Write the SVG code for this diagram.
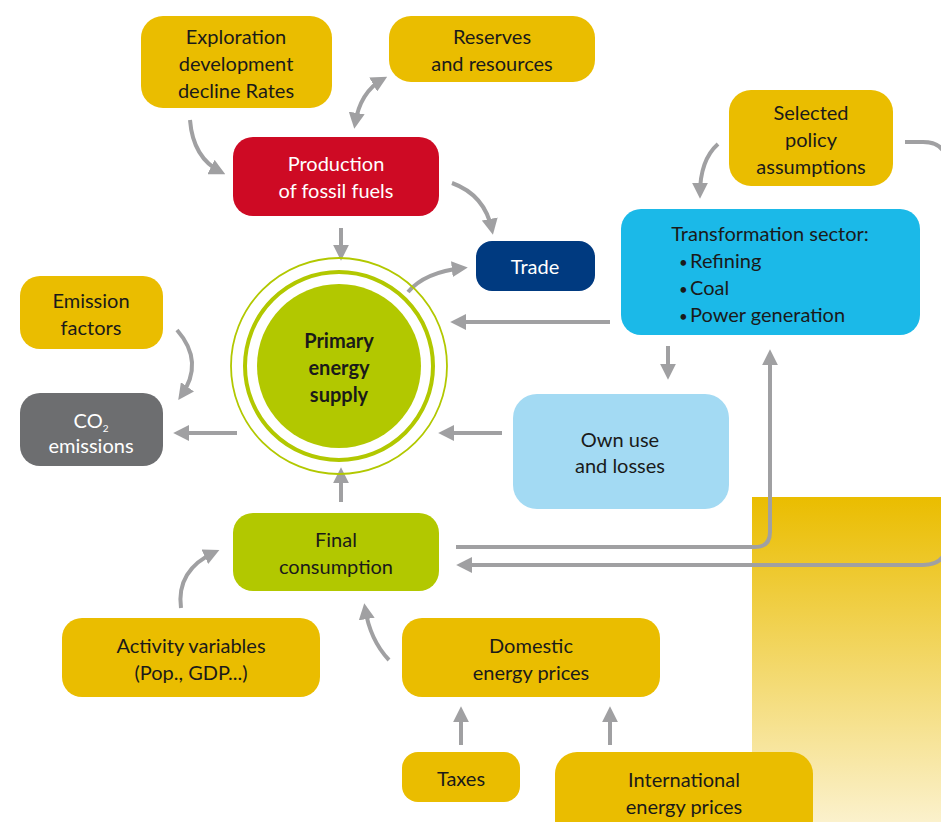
<svg xmlns="http://www.w3.org/2000/svg" width="941" height="822" viewBox="0 0 941 822">
<defs>
<linearGradient id="bgGrad" x1="0" y1="0" x2="0" y2="1">
<stop offset="0" stop-color="#EABD00"/>
<stop offset="1" stop-color="#FBF1CC"/>
</linearGradient>
<marker id="ah" viewBox="0 0 10 10" refX="7" refY="5" markerUnits="userSpaceOnUse" markerWidth="16" markerHeight="16" orient="auto-start-reverse">
<path d="M0,0 L10,5 L0,10 z" fill="#A0A0A2"/>
</marker>
<style>
.t{font-family:Lato,"Open Sans","Liberation Sans",sans-serif;font-size:20px;text-anchor:middle;fill:#1A1A1A}
.s{text-anchor:start}
.w{fill:#FFFFFF}
.b{font-weight:bold}
.y{fill:#EABD00}
.c{fill:none;stroke:#A0A0A2;stroke-width:4}
.a{marker-end:url(#ah)}
</style>
</defs>
<rect x="752" y="497" width="189" height="325" fill="url(#bgGrad)"/>

<g id="connectors">
<path class="c a" d="M190,120 Q193,158 221,172"/>
<path class="c a" d="M355,124 Q360,92 383,79" marker-start="url(#ah)"/>
<path class="c a" d="M452,183 Q485,195 492,230"/>
<path class="c a" d="M341,228 L341,256"/>
<path class="c a" d="M408,292 Q425,272 463,268"/>
<path class="c a" d="M610,322 L455,322"/>
<path class="c a" d="M718,144 Q700,160 700,194"/>
<path class="c a" d="M668,346 L668,375"/>
<path class="c a" d="M502,433 L443,433"/>
<path class="c a" d="M237,433 L178,433"/>
<path class="c a" d="M177,330 Q205,362 181,396"/>
<path class="c a" d="M341,502 L341,472"/>
<path class="c a" d="M456,547 L755,547 Q770,547 770,532 L770,354"/>
<path class="c a" d="M905,142 L923,142 Q947,142 947,166 L947,541 Q947,565 923,565 L461,565"/>
<path class="c a" d="M181,608 Q176,570 215,552"/>
<path class="c a" d="M389,660 Q370,640 365,608"/>
<path class="c a" d="M461,745 L461,711"/>
<path class="c a" d="M610,745 L610,711"/>
</g>

<g id="exploration">
<rect class="y" x="141" y="16" width="191" height="92" rx="22"/>
<text class="t" x="236" y="44">Exploration</text>
<text class="t" x="236" y="71">development</text>
<text class="t" x="236" y="98">decline Rates</text>
</g>
<g id="reserves">
<rect class="y" x="389" y="16" width="206" height="66" rx="22"/>
<text class="t" x="492" y="44">Reserves</text>
<text class="t" x="492" y="71">and resources</text>
</g>
<g id="production">
<rect x="233" y="137" width="206" height="79" rx="20" fill="#CE0A24"/>
<text class="t w" x="336" y="171">Production</text>
<text class="t w" x="336" y="198">of fossil fuels</text>
</g>
<g id="trade">
<rect x="476" y="241" width="119" height="50" rx="16" fill="#003A80"/>
<text class="t w" x="535" y="274">Trade</text>
</g>
<g id="policy">
<rect class="y" x="729" y="90" width="164" height="96" rx="22"/>
<text class="t" x="811" y="120">Selected</text>
<text class="t" x="811" y="147">policy</text>
<text class="t" x="811" y="174">assumptions</text>
</g>
<g id="transformation">
<rect x="621" y="209" width="299" height="126" rx="20" fill="#1BB9E8"/>
<text class="t" x="770" y="241">Transformation sector:</text>
<text class="t s" x="679" y="268"><tspan font-size="15">•</tspan><tspan x="690">Refining</tspan></text>
<text class="t s" x="679" y="295"><tspan font-size="15">•</tspan><tspan x="690">Coal</tspan></text>
<text class="t s" x="679" y="322"><tspan font-size="15">•</tspan><tspan x="690">Power generation</tspan></text>
</g>
<g id="emission-factors">
<rect class="y" x="20" y="276" width="143" height="73" rx="20"/>
<text class="t" x="91" y="308">Emission</text>
<text class="t" x="91" y="335">factors</text>
</g>
<g id="co2">
<rect x="20" y="393" width="143" height="73" rx="20" fill="#6D6E70"/>
<text class="t w" x="91" y="428">CO<tspan font-size="10" dy="4">2</tspan></text>
<text class="t w" x="91" y="453">emissions</text>
</g>
<g id="primary">
<circle cx="339" cy="366" r="108" fill="none" stroke="#B2C800" stroke-width="1.8"/>
<circle cx="339" cy="366" r="94" fill="none" stroke="#B2C800" stroke-width="4"/>
<circle cx="339" cy="366" r="82" fill="#B2C800"/>
<text class="t b" x="339" y="348">Primary</text>
<text class="t b" x="339" y="375">energy</text>
<text class="t b" x="339" y="402">supply</text>
</g>
<g id="own-use">
<rect x="513" y="394" width="216" height="115" rx="24" fill="#A3DAF3"/>
<text class="t" x="620" y="447">Own use</text>
<text class="t" x="620" y="473">and losses</text>
</g>
<g id="final">
<rect x="233" y="513" width="206" height="78" rx="20" fill="#B2C800"/>
<text class="t" x="336" y="547">Final</text>
<text class="t" x="336" y="574">consumption</text>
</g>
<g id="activity">
<rect class="y" x="62" y="618" width="258" height="79" rx="20"/>
<text class="t" x="191" y="653">Activity variables</text>
<text class="t" x="191" y="680">(Pop., GDP...)</text>
</g>
<g id="domestic">
<rect class="y" x="402" y="618" width="258" height="79" rx="20"/>
<text class="t" x="531" y="653">Domestic</text>
<text class="t" x="531" y="680">energy prices</text>
</g>
<g id="taxes">
<rect class="y" x="402" y="752" width="118" height="50" rx="16"/>
<text class="t" x="461" y="786">Taxes</text>
</g>
<g id="international">
<rect class="y" x="555" y="752" width="258" height="90" rx="22"/>
<text class="t" x="684" y="787">International</text>
<text class="t" x="684" y="814">energy prices</text>
</g>
</svg>
